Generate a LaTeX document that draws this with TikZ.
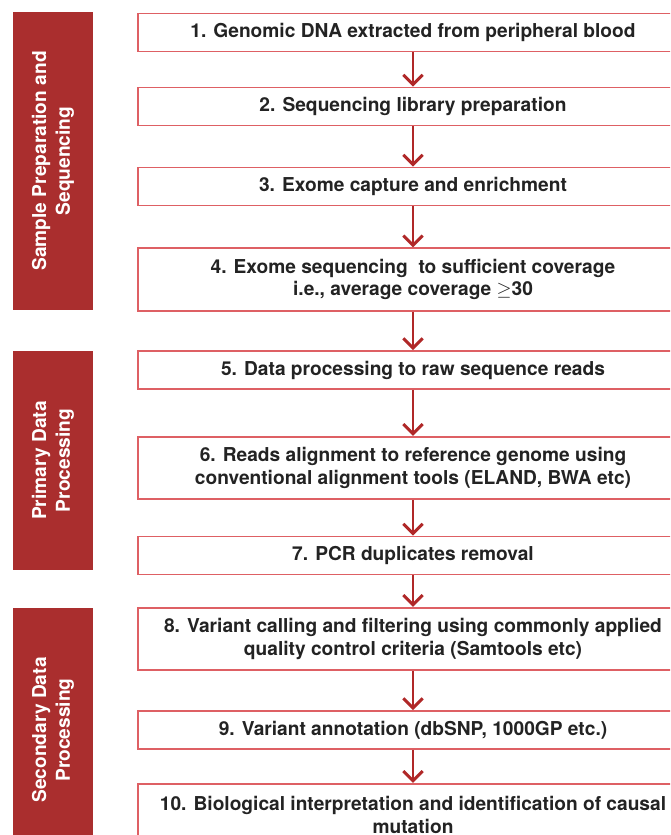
\documentclass[tikz,border=0pt]{standalone}
\usepackage{fontspec}
\setmainfont{TeX Gyre Heros}
\usepackage{xcolor}
\usepackage{tikz}
\usetikzlibrary{arrows.meta, positioning}
\definecolor{barred}{RGB}{170,46,46}
\definecolor{edgered}{RGB}{222,96,100}
\definecolor{arrred}{RGB}{176,40,40}
\definecolor{txtdark}{RGB}{35,35,35}
\tikzset{
  block/.style={rectangle, draw=edgered, fill=white, line width=1pt,
    minimum width=11cm, minimum height=0.76cm, align=center,
    text=txtdark, font=\bfseries\fontsize{10.9}{12.6}\selectfont},
  tallblock/.style={block, minimum height=1.25cm},
  sidebar/.style={rectangle, fill=barred, rotate=90, align=center,
    minimum height=1.6cm, text=white,
    font=\bfseries\fontsize{10.9}{13.5}\selectfont},
  arrow/.style={-{Straight Barb[length=5.5pt, width=11pt]}, line width=1.7pt, color=arrred}
}
\begin{document}
\begin{tikzpicture}[x=0.02cm, y=-0.02cm]
  \useasboundingbox (0,0) rectangle (670,835);
  \fill[white] (0,0) rectangle (670,835);
  \clip (0,0) rectangle (670,835);

  % Stage bars
  \node[sidebar, minimum width=5.96cm] (bar1) at (53,161) {Sample Preparation and\\Sequencing};
  \node[sidebar, minimum width=4.38cm] (bar2) at (53,460.5) {Primary Data\\Processing};
  \node[sidebar, minimum width=4.88cm] (bar3) at (53,730) {Secondary Data\\Processing};

  % Steps
  \node[block] (st1) at (413,32.5) {1. Genomic DNA extracted from peripheral blood};
  \node[block] (st2) at (413,106.5) {2. Sequencing library preparation};
  \node[block] (st3) at (413,186.5) {3. Exome capture and enrichment};
  \node[tallblock] (st4) at (413,279.5) {4. Exome sequencing \ to sufficient coverage\\i.e., average coverage $\geq$30};
  \node[block] (st5) at (413,370) {5. Data processing to raw sequence reads};
  \node[tallblock] (st6) at (413,468) {6. Reads alignment to reference genome using\\conventional alignment tools (ELAND, BWA etc)};
  \node[block] (st7) at (413,555.5) {7. PCR duplicates removal};
  \node[tallblock] (st8) at (413,639) {8. Variant calling and filtering using commonly applied\\quality control criteria (Samtools etc)};
  \node[block] (st9) at (413,730) {9. Variant annotation (dbSNP, 1000GP etc.)};
  \node[tallblock] (st10) at (413,815) {10. Biological interpretation and identification of causal\\mutation};

  % Flow
  \foreach \a/\b in {st1/st2, st2/st3, st3/st4, st4/st5, st5/st6, st6/st7, st7/st8, st8/st9, st9/st10}
    \draw[arrow] (\a) -- (\b);
\end{tikzpicture}
\end{document}
